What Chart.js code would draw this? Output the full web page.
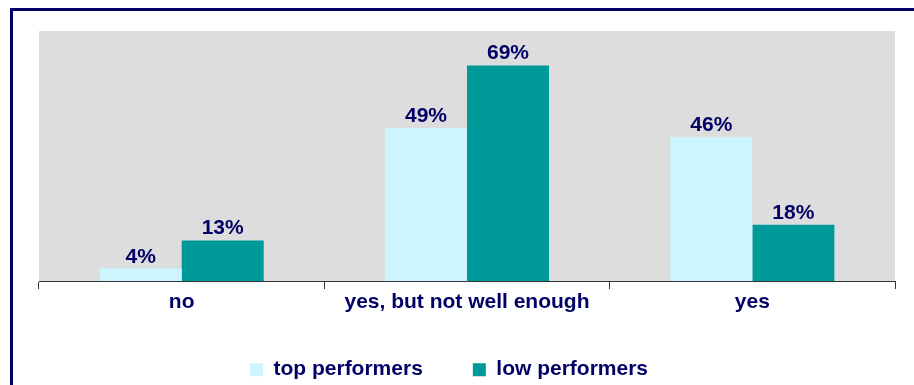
<!DOCTYPE html>
<html>
<head>
<meta charset="utf-8">
<script src="https://cdn.jsdelivr.net/npm/chart.js@4.4.1/dist/chart.umd.min.js"></script>
<style>
  html, body { margin: 0; padding: 0; background: #ffffff; }
  #wrap { width: 914px; height: 385px; position: relative; }
</style>
</head>
<body>
<div id="wrap"><canvas id="myChart" width="914" height="385"></canvas></div>
<script>
const categories = ['no', 'yes, but not well enough', 'yes'];
const top_performers = [4, 49, 46];
const low_performers = [13, 69, 18];
const series_names = ['top performers', 'low performers'];

const navy = '#000066';
const fontFamily = '"Liberation Sans", Arial, sans-serif';

// frame on the left and top, plus the grey plot background
const framePlugin = {
  id: 'frame',
  afterLayout(chart) {
    // nudge the legend left of centre and a little up
    const lg = chart.legend;
    lg.left -= 18;
    lg.right -= 18;
    lg.top -= 7;
    lg.bottom -= 7;
  },
  beforeDraw(chart) {
    const ctx = chart.ctx;
    const area = chart.chartArea;
    ctx.save();
    ctx.fillStyle = '#dddddd';
    ctx.fillRect(area.left, area.top, area.right - area.left, area.bottom - area.top);
    ctx.fillStyle = navy;
    ctx.fillRect(10, 8, 904, 3);
    ctx.fillRect(10, 8, 3, 377);
    ctx.restore();
  }
};

// percent labels above each bar
const valueLabels = {
  id: 'valueLabels',
  afterDatasetsDraw(chart) {
    const ctx = chart.ctx;
    ctx.save();
    ctx.font = 'bold 21px ' + fontFamily;
    ctx.fillStyle = navy;
    ctx.textAlign = 'center';
    ctx.textBaseline = 'alphabetic';
    chart.data.datasets.forEach((ds, i) => {
      chart.getDatasetMeta(i).data.forEach((bar, j) => {
        ctx.fillText(ds.data[j] + '%', bar.x, bar.y - 6);
      });
    });
    ctx.restore();
  }
};

const ctx = document.getElementById('myChart').getContext('2d');
const myChart = new Chart(ctx, {
  type: 'bar',
  data: {
    labels: categories,
    datasets: [{
      label: series_names[0],
      data: top_performers,
      backgroundColor: '#ccf5ff',
      borderWidth: 0,
      categoryPercentage: 0.575,
      barPercentage: 1.0
    }, {
      label: series_names[1],
      data: low_performers,
      backgroundColor: '#009999',
      borderWidth: 0,
      categoryPercentage: 0.575,
      barPercentage: 1.0
    }]
  },
  options: {
    responsive: false,
    animation: false,
    layout: {
      padding: { left: 39, right: 19, top: 31, bottom: -12.2 }
    },
    scales: {
      x: {
        grid: {
          offset: true,
          drawOnChartArea: false,
          tickLength: 8,
          color: '#333333',
          tickColor: '#333333'
        },
        border: { color: '#333333', width: 1 },
        ticks: {
          color: navy,
          padding: 1,
          font: { family: fontFamily, size: 21, weight: 'bold' }
        }
      },
      y: {
        display: false,
        min: 0,
        max: 80
      }
    },
    plugins: {
      legend: {
        position: 'bottom',
        labels: {
          color: navy,
          boxWidth: 13,
          boxHeight: 13,
          padding: 50,
          font: { family: fontFamily, size: 21, weight: 'bold' }
        }
      },
      tooltip: { enabled: false }
    }
  },
  plugins: [framePlugin, valueLabels]
});
</script>
</body>
</html>
